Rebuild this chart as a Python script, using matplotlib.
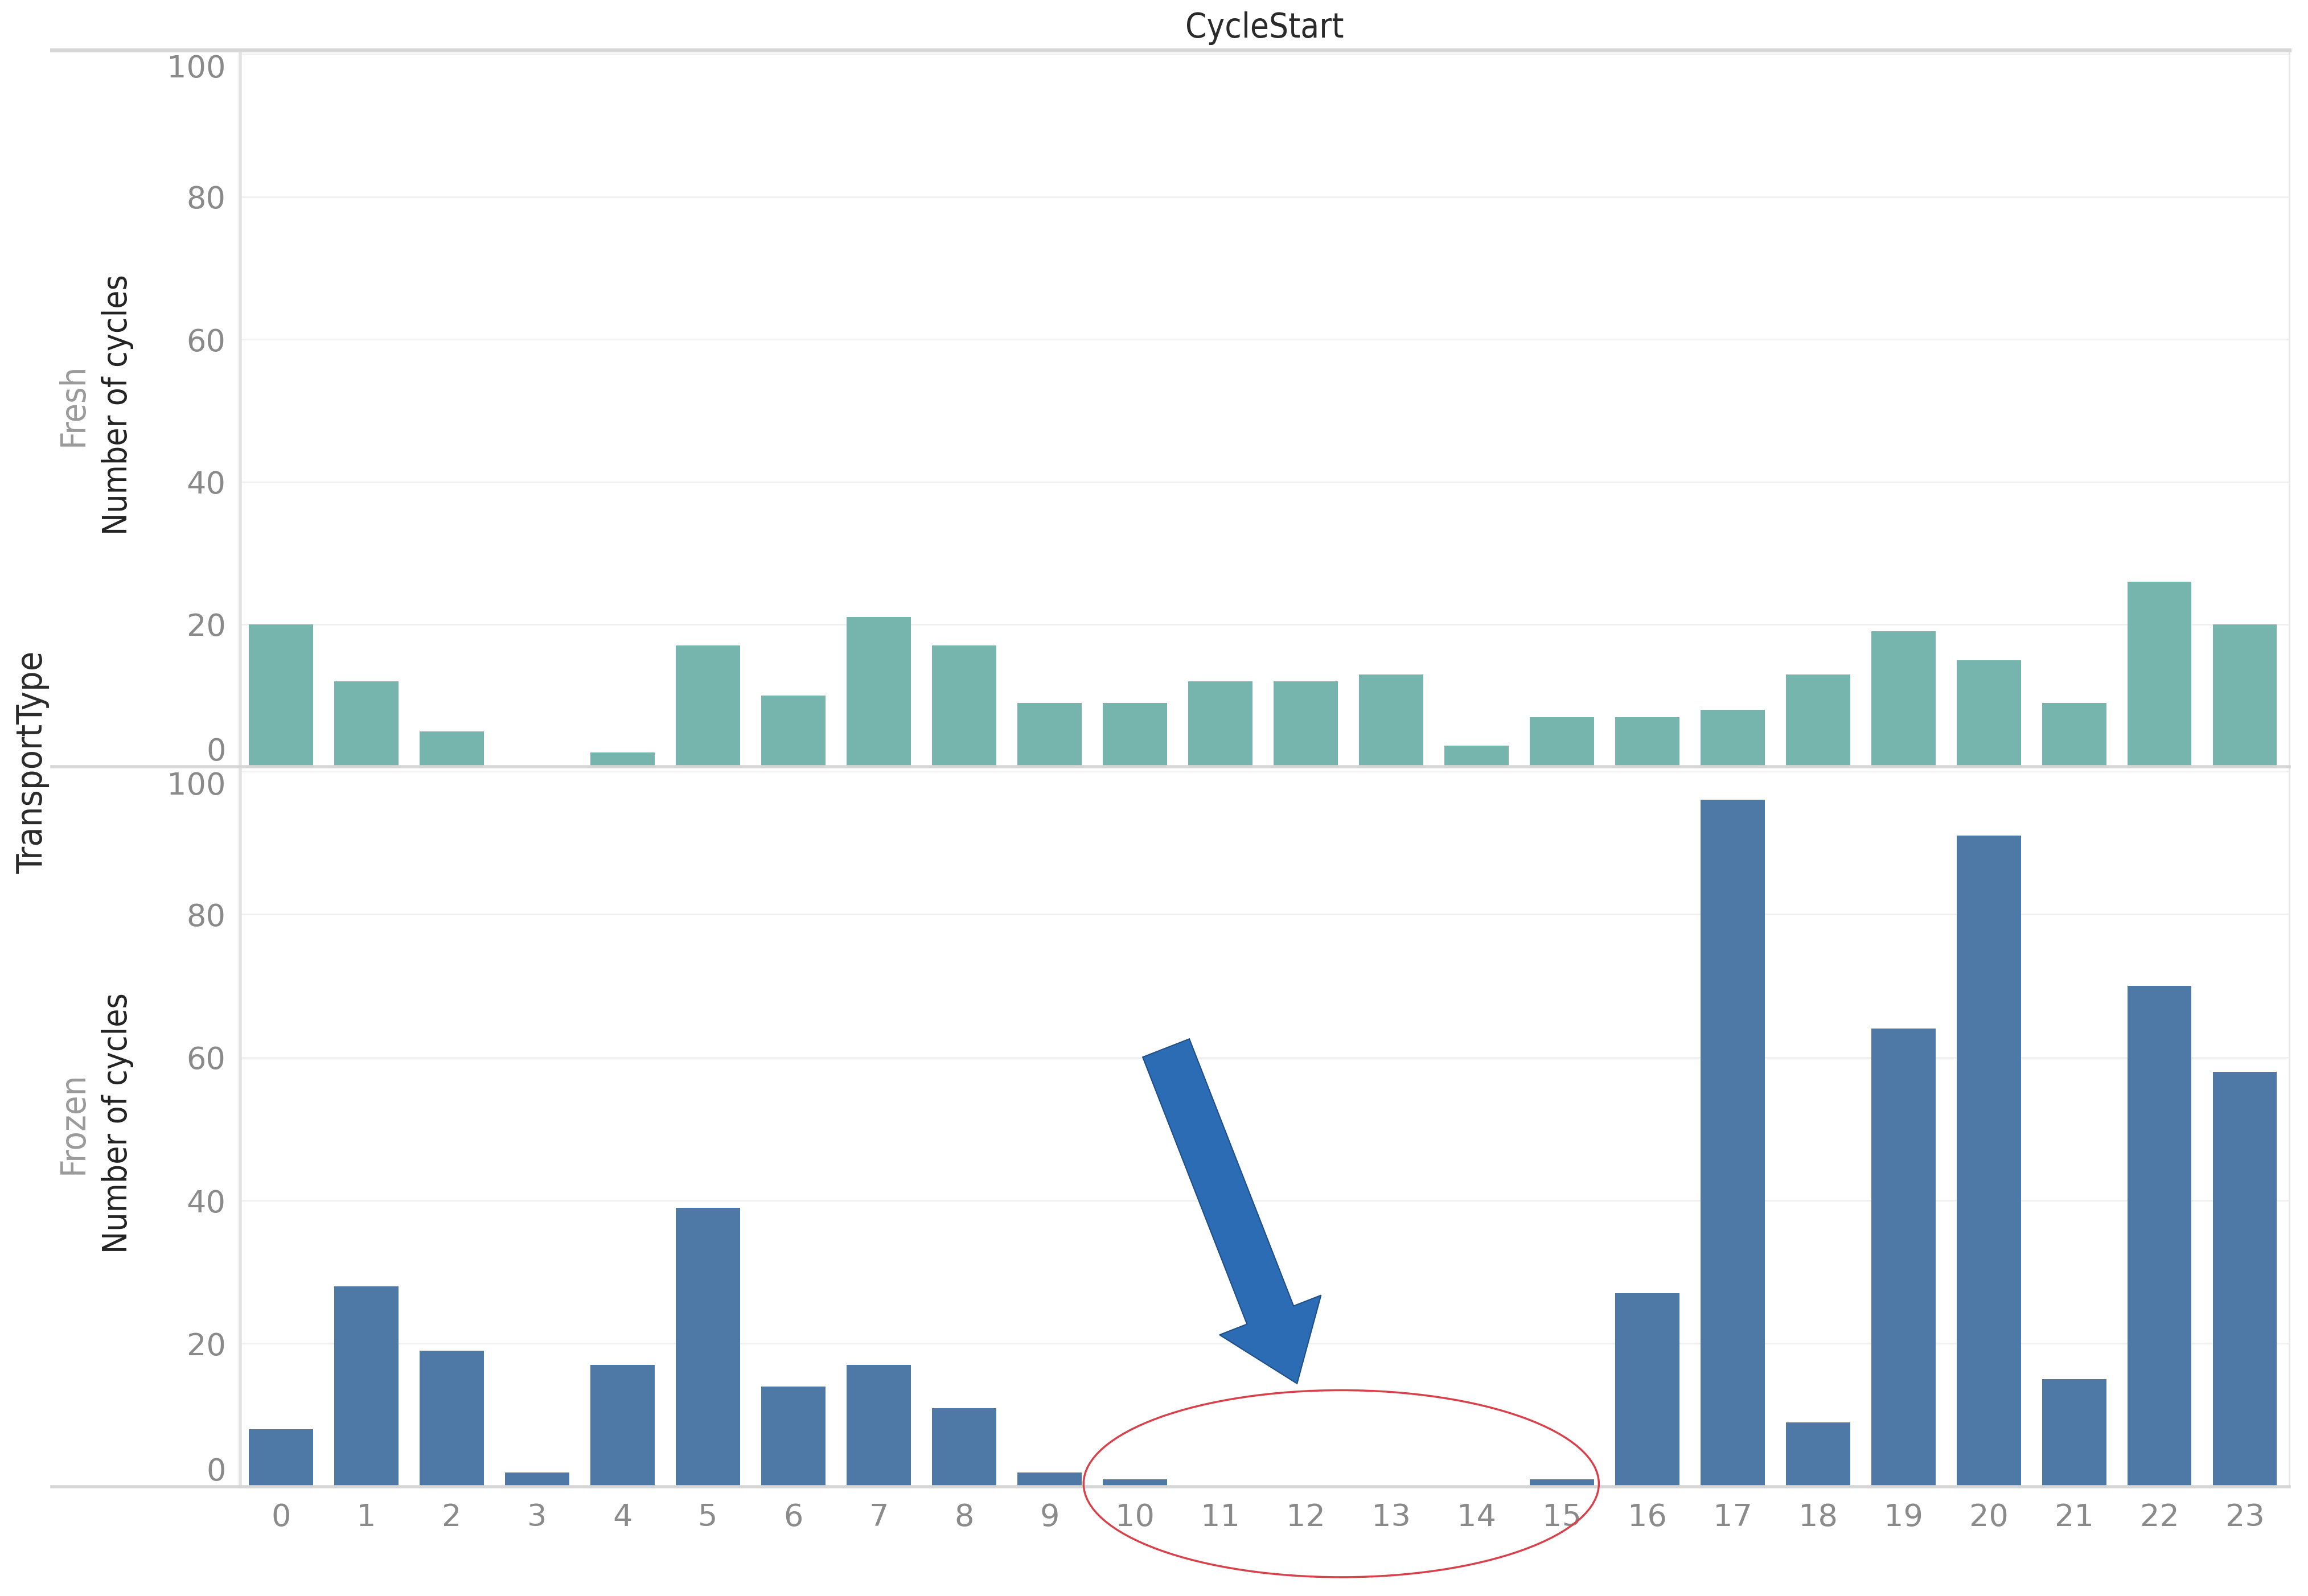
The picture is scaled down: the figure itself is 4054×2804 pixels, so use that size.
import matplotlib
matplotlib.use("Agg")
import matplotlib.pyplot as plt
import matplotlib.patches as mpatches
from matplotlib.lines import Line2D
import numpy as np

# ---- data ----
hours = list(range(24))
hour_labels = [str(h) for h in hours]
fresh = [20, 12, 5, 0, 2, 17, 10, 21, 17, 9, 9, 12, 12, 13, 3, 7, 7, 8, 13, 19, 15, 9, 26, 20]
frozen = [8, 28, 19, 2, 17, 39, 14, 17, 11, 2, 1, 0, 0, 0, 0, 1, 27, 96, 9, 64, 91, 15, 70, 58]
y_ticks = [0, 20, 40, 60, 80, 100]
panel_names = ["Fresh", "Frozen"]
fresh_color = "#76b5ae"
frozen_color = "#4e79a7"

W, H = 4055, 2804
fig = plt.figure(figsize=(W / 100, H / 100), dpi=100)
fig.patch.set_facecolor("white")

def fx(px):
    return px / W

def fy(py):
    return 1 - py / H

S = 2.586  # display -> full scale
left, right = 163 * S, 1555 * S
top1, base1 = 34 * S, 521 * S
base2 = 1010 * S

ax1 = fig.add_axes([fx(left), fy(base1), fx(right) - fx(left), fy(top1) - fy(base1)])
ax2 = fig.add_axes([fx(left), fy(base2), fx(right) - fx(left), fy(base1) - fy(base2)])

tick_color = "#8a8a8a"
for ax, vals, col in [(ax1, fresh, fresh_color), (ax2, frozen, frozen_color)]:
    ax.bar(hours, vals, width=0.75, color=col, zorder=3)
    ax.set_xlim(-0.48, 23.52)
    ax.set_ylim(0, 100.6)
    ax.set_yticks(y_ticks)
    ax.set_yticklabels([str(t) for t in y_ticks])
    ax.grid(axis="y", color="#f0f0f0", linewidth=2, zorder=0)
    for s in ["top", "right", "bottom"]:
        ax.spines[s].set_visible(False)
    ax.spines["left"].set_color("#e2e2e2")
    ax.spines["left"].set_linewidth(4)
    ax.tick_params(axis="y", length=0, pad=18, labelsize=39, labelcolor=tick_color)
    ax.tick_params(axis="x", length=0, pad=20, labelsize=39, labelcolor=tick_color)
    for lbl in ax.get_yticklabels():
        if lbl.get_text() == "100":
            lbl.set_va("top")
        elif lbl.get_text() == "0":
            lbl.set_va("bottom")

ax1.set_xticks([])
ax2.set_xticks(hours)
ax2.set_xticklabels(hour_labels)

# frame lines
line_color = "#d6d6d6"
for yy, lw in [(top1, 5), (base1, 4), (base2, 4)]:
    fig.add_artist(Line2D([fx(35 * S), fx(right)], [fy(yy), fy(yy)], color=line_color, lw=lw, zorder=5))
fig.add_artist(Line2D([fx(right), fx(right)], [fy(top1), fy(base2)], color="#e6e6e6", lw=2))

# titles / labels
fig.text(fx((left + right) / 2), fy(19 * S), "CycleStart", ha="center", va="center",
         fontsize=43, color="#2a2a2a", fontstretch="condensed")
fig.text(fx(22 * S), fy(518 * S), "TransportType", rotation=90, ha="center", va="center",
         fontsize=45, color="#2a2a2a", fontstretch="condensed")
for name, yc in zip(panel_names, [275, 763]):
    fig.text(fx(80 * S), fy(yc * S), "Number of cycles", rotation=90, ha="center", va="center",
             fontsize=42, color="#222222", fontstretch="condensed")
    fig.text(fx(50 * S), fy(yc * S), name, rotation=90, ha="center", va="center",
             fontsize=44, color="#9a9a9a", fontstretch="condensed")

# annotation: block arrow
tail = np.array([792 * S, 712 * S])
tip = np.array([881 * S, 940 * S])
d = tip - tail
L = np.linalg.norm(d)
u = d / L
p = np.array([-u[1], u[0]])
shaft_w, head_w, head_l = 34 * S, 74 * S, 50 * S
hb = tip - u * head_l
pts = [tail + p * shaft_w / 2, hb + p * shaft_w / 2, hb + p * head_w / 2, tip,
       hb - p * head_w / 2, hb - p * shaft_w / 2, tail - p * shaft_w / 2]
pts_fig = [(fx(x), fy(y)) for x, y in pts]
fig.add_artist(mpatches.Polygon(pts_fig, closed=True, facecolor="#2b6cb5",
                                edgecolor="#1f4f86", lw=1.5, transform=fig.transFigure, zorder=10))

# annotation: red ellipse
fig.add_artist(mpatches.Ellipse((fx(911 * S), fy(1008 * S)), fx(350 * S), 127 * S / H,
                                transform=fig.transFigure, fill=False, edgecolor="#d8404a",
                                lw=2.5, zorder=10))

fig.savefig("out.png", dpi=100, facecolor="white")
